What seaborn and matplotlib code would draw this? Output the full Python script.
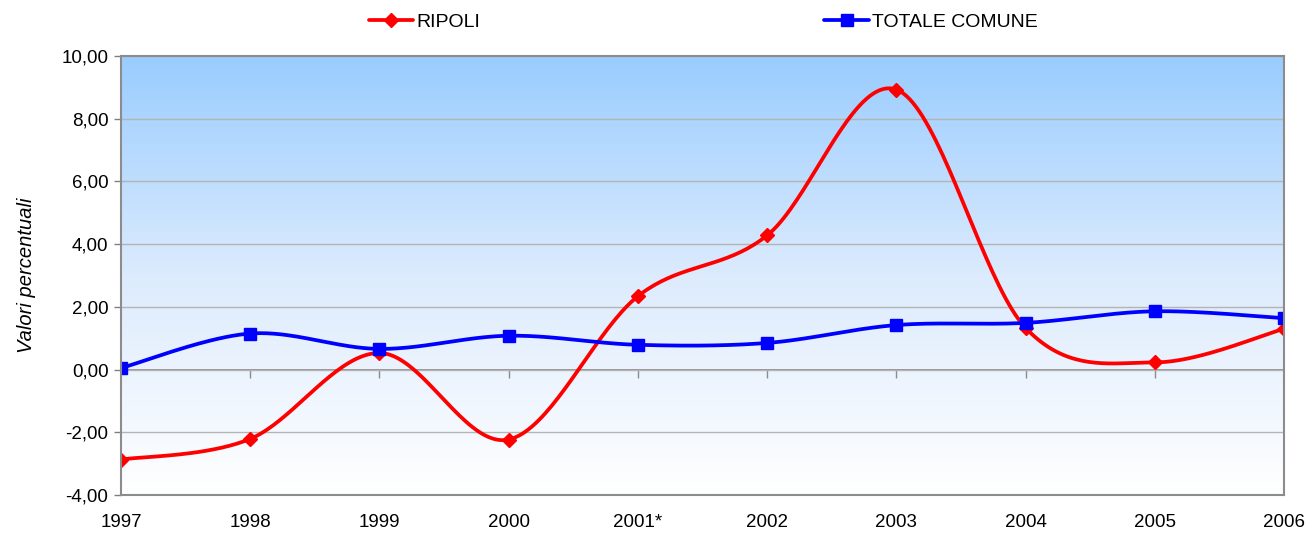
import numpy as np
import pandas as pd
import seaborn as sns
import matplotlib.pyplot as plt
from matplotlib.lines import Line2D
from matplotlib.colors import LinearSegmentedColormap

years = ["1997", "1998", "1999", "2000", "2001*", "2002", "2003", "2004", "2005", "2006"]
ripoli = [-2.87, -2.21, 0.53, -2.23, 2.34, 4.28, 8.93, 1.33, 0.23, 1.30]
totale = [0.05, 1.15, 0.66, 1.08, 0.79, 0.85, 1.42, 1.49, 1.86, 1.64]


# .:: Excel-like smoothed line (Catmull-Rom Bezier) ::.
def smooth(values, n=40):
    y = np.asarray(values, dtype=float)
    x = np.arange(len(y), dtype=float)
    pts = np.column_stack([x, y])
    pad = np.vstack([pts[0], pts, pts[-1]])
    out = []
    for i in range(len(pts) - 1):
        p0, p1, p2, p3 = pad[i], pad[i + 1], pad[i + 2], pad[i + 3]
        c1 = p1 + (p2 - p0) / 6
        c2 = p2 - (p3 - p1) / 6
        t = np.linspace(0, 1, n)[:, None]
        seg = ((1 - t) ** 3) * p1 + 3 * ((1 - t) ** 2) * t * c1 + 3 * (1 - t) * t ** 2 * c2 + t ** 3 * p2
        out.append(seg if i == 0 else seg[1:])
    out = np.vstack(out)
    return pd.DataFrame({"x": out[:, 0], "y": out[:, 1]})


sns.set_style("white")
plt.rcParams["font.family"] = ["Liberation Sans", "DejaVu Sans"]
plt.rcParams["text.color"] = "black"
plt.rcParams["axes.labelcolor"] = "black"
plt.rcParams["xtick.labelcolor"] = "black"
plt.rcParams["ytick.labelcolor"] = "black"

fig = plt.figure(figsize=(13.08, 5.34), dpi=100)
ax = fig.add_axes([0.0925, 0.0730, 0.8892, 0.8221])

# gradient background
cmap = LinearSegmentedColormap.from_list("bg", ["#99CCFF", "#DCEBFD", "#FFFFFF"])
grad = np.linspace(0, 1, 256)[:, None]
ax.imshow(grad, aspect="auto", cmap=cmap, extent=[0, 1, 0, 1],
          transform=ax.transAxes, zorder=0)

x = np.arange(len(years))
series = [(ripoli, "#FF0000", "D", 7, "RIPOLI"),
          (totale, "#0000FF", "s", 8, "TOTALE COMUNE")]
handles = []
for vals, col, mk, ms, name in series:
    sm = smooth(vals)
    sns.lineplot(data=sm, x="x", y="y", sort=False, color=col, lw=2.7,
                 ax=ax, zorder=3)
    ax.plot(x, vals, linestyle="none", marker=mk, ms=ms, color=col, zorder=4)
    handles.append(Line2D([], [], color=col, lw=2.7, marker=mk, ms=ms, label=name))

ax.set_xlim(0, len(years) - 1)
ax.set_ylim(-4, 10)
ax.set_yticks(np.arange(-4, 11, 2))
ax.set_yticklabels([f"{v:.2f}".replace(".", ",") for v in np.arange(-4, 11, 2)], fontsize=13.5)
ax.set_xticks(x)
ax.set_xticklabels(years, fontsize=13.5)
ax.tick_params(axis="x", length=0, pad=14)
ax.tick_params(axis="y", length=5, width=1, color="#808080", direction="out", pad=4, left=True)
ax.grid(axis="y", color="#B4B4B4", lw=1, zorder=1)
ax.set_axisbelow(False)
for s in ax.spines.values():
    s.set_color("#8C8C8C")
    s.set_linewidth(1.5)
    s.set_zorder(5)

# category axis crossing at zero
ax.axhline(0, color="#8C8C8C", lw=1.3, zorder=2)
sec = ax.secondary_xaxis(4 / 14)
sec.set_xticks(x[1:-1])
sec.set_xticklabels([])
sec.tick_params(axis="x", length=6, width=1, color="#8C8C8C", direction="out")
sec.spines["bottom"].set_visible(False)

ax.set_xlabel("")
ax.set_ylabel("Valori percentuali", fontsize=14.5, style="italic", labelpad=18)

fig.legend(handles=handles, loc="center", bbox_to_anchor=(0.5375, 0.959), ncol=2,
           frameon=False, fontsize=14, handlelength=2.3, handletextpad=0.15,
           columnspacing=17.7)

fig.savefig("out.png", dpi=100)
